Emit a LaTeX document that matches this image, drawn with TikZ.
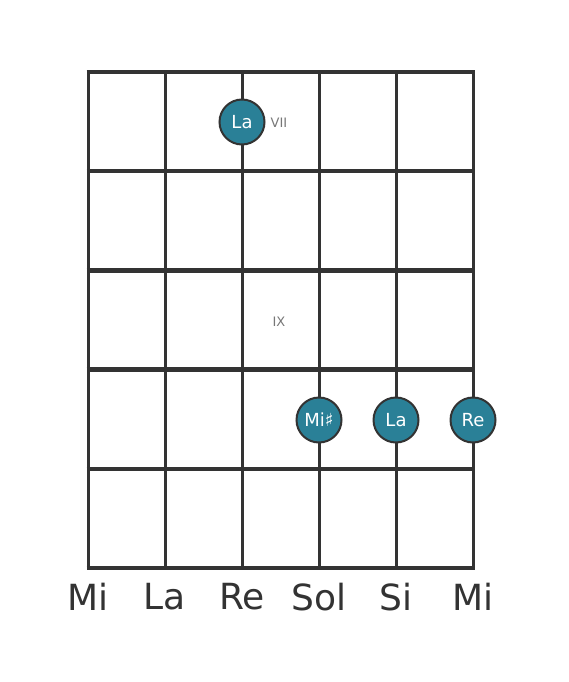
\documentclass[tikz,border=0pt]{standalone}
\usepackage{fontspec}
\setmainfont{DejaVu Sans}
\definecolor{griddark}{HTML}{333333}
\definecolor{noteteal}{HTML}{2A8097}
\definecolor{fretgray}{HTML}{777777}
\tikzset{fret/.style={griddark,line width=4.5pt},
         gstring/.style={griddark,line width=3pt},
         note/.style={circle,draw=griddark,line width=2pt,fill=noteteal,text=white,
                      minimum size=45pt,inner sep=0pt,font=\fontsize{18}{18}\selectfont},
         fretnum/.style={text=fretgray,font=\fontsize{13}{13}\selectfont},
         strname/.style={text=griddark,font=\fontsize{36}{36}\selectfont},
        }

\begin{document}
\begin{tikzpicture}[x=1pt,y=-1pt]
    \useasboundingbox (0,0) rectangle (568,682);
    \foreach \i in {0,...,5}{
        \coordinate (s\i top) at (88+77*\i,72);
        \coordinate (s\i bot) at (88+77*\i,568);
        \draw[gstring] (s\i top) -- (s\i bot);
    }
    \foreach \j in {0,...,5}{
        \coordinate (f\j l) at (86.5,72+99.2*\j);
        \coordinate (f\j r) at (474.5,72+99.2*\j);
        \draw[fret] (f\j l) -- (f\j r);
    }
    \node[strname](n0)at(88,597){Mi};
    \node[strname](n1)at(165,597){La};
    \node[strname](n2)at(242,597){Re};
    \node[strname](n3)at(319,597){Sol};
    \node[strname](n4)at(396,597){Si};
    \node[strname](n5)at(473,597){Mi};
    \node[fretnum](vii)at(279,123){VII};
    \node[fretnum](ix)at(279,322){IX};
    \node[note](d1)at(242,122){La};
    \node[note](d2)at(319,420){Mi♯};
    \node[note](d3)at(396,420){La};
    \node[note](d4)at(473,420){Re};
\end{tikzpicture}
\end{document}
